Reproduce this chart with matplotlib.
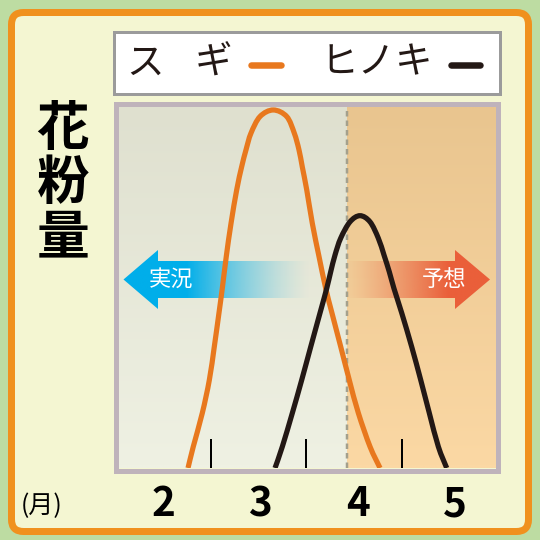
import numpy as np
import matplotlib
matplotlib.use("Agg")
import matplotlib.pyplot as plt
from matplotlib.path import Path
from matplotlib.patches import PathPatch, Rectangle, FancyBboxPatch, Polygon
from matplotlib.lines import Line2D

plt.rcParams['font.family'] = ['Noto Sans CJK JP', 'DejaVu Sans']

# ---------------- data ----------------
sugi_month = [2.257, 2.311, 2.404, 2.476, 2.527, 2.575, 2.609, 2.650, 2.699, 2.757,
              2.808, 2.853, 2.904, 2.997, 3.133, 3.271, 3.349, 3.397, 3.431, 3.477,
              3.534, 3.603, 3.672, 3.736, 3.826, 3.914, 4.007, 4.127, 4.230]
sugi_amount = [0, 5.9, 15.2, 24.3, 33.5, 42.8, 49.6, 58.4, 67.6, 76.8,
               83.2, 87.9, 92.5, 97.1, 98.9, 97.1, 92.5, 87.9, 83.2, 76.8,
               67.6, 58.4, 49.6, 42.8, 33.5, 24.3, 15.2, 5.9, 0]
hinoki_month = [3.151, 3.226, 3.329, 3.425, 3.518, 3.613, 3.682, 3.723, 3.767, 3.826,
                3.921, 4.024, 4.127, 4.212, 4.271, 4.325, 4.373, 4.453, 4.555, 4.648,
                4.736, 4.829, 4.915]
hinoki_amount = [0, 5.9, 15.2, 24.3, 33.5, 42.8, 49.6, 54.2, 58.8, 63.5,
                 68.0, 69.7, 68.0, 63.5, 58.8, 54.2, 49.6, 42.8, 33.5, 24.3,
                 15.2, 5.9, 0]
month_pos = [2, 3, 4, 5]
month_labels = ['2', '3', '4', '5']
tick_pos = [2.49, 3.47, 4.46]
today = 3.89
legend_sugi = ['ス', 'ギ']
legend_hinoki = 'ヒノキ'
ylabel_chars = ['花', '粉', '量']
past_label = '実況'
future_label = '予想'
unit_label = '(月)'

# ---------------- styles ----------------
ORANGE = '#e8781e'
BLACK = '#231815'
W, H = 540, 540
PX = 0.72  # px -> pt

fig = plt.figure(figsize=(5.4, 5.4), dpi=100)
fig.patch.set_facecolor('#bddca2')

# pixel-coordinate background axes
bg = fig.add_axes([0, 0, 1, 1], zorder=0)
bg.set_xlim(0, W); bg.set_ylim(H, 0); bg.axis('off')
bg.add_patch(FancyBboxPatch((11.5, 12.5), 517, 519,
                            boxstyle="round,pad=0,rounding_size=12",
                            facecolor='#f4f6d2', edgecolor='#f0911e', lw=7 * PX))
# legend box
bg.add_patch(Rectangle((113.5, 31.5), 386, 62.5, facecolor='white',
                       edgecolor='#9b9b9b', lw=3 * PX))
bg.text(145, 63, legend_sugi[0], ha='center', va='center', fontsize=27, color=BLACK)
bg.text(213, 63, legend_sugi[1], ha='center', va='center', fontsize=27, color=BLACK)
bg.add_line(Line2D([251, 281], [64.5, 64.5], color=ORANGE, lw=6.5 * PX,
                   solid_capstyle='round'))
bg.text(377, 63, legend_hinoki, ha='center', va='center', fontsize=27, color=BLACK)
bg.add_line(Line2D([451, 480], [64.5, 64.5], color=BLACK, lw=6.5 * PX,
                   solid_capstyle='round'))
# y label
for ch, yy in zip(ylabel_chars, [130, 184, 238]):
    bg.text(63, yy, ch, ha='center', va='center', fontsize=38,
            fontweight='bold', color='black')
bg.text(42, 506, unit_label, ha='center', va='center', fontsize=18, color='black')

# inner plot area (pixel coords)
L, R, T, B = 118, 495, 106, 468
pos = [L / W, 1 - B / H, (R - L) / W, (B - T) / H]

xmin = 2 + (L - 163) / 97.33
xmax = 2 + (R - 163) / 97.33

ax = fig.add_axes(pos, zorder=1)
ax.set_xlim(xmin, xmax); ax.set_ylim(0, 100)
ax.axis('off')

def vgrad(top, bottom, n=64):
    top = np.array(matplotlib.colors.to_rgb(top))
    bottom = np.array(matplotlib.colors.to_rgb(bottom))
    t = np.linspace(0, 1, n)[:, None]
    return (top * (1 - t) + bottom * t)[:, None, :]

ax.imshow(vgrad('#dfe0cf', '#eff1e3'), extent=(xmin, today, 0, 100),
          aspect='auto', interpolation='bilinear', origin='upper', zorder=0)
ax.imshow(vgrad('#e9c58f', '#fbd8a4'), extent=(today, xmax, 0, 100),
          aspect='auto', interpolation='bilinear', origin='upper', zorder=0)

def px2d(x, y):
    return (2 + (x - 163) / 97.33, (B - y) / (B - T) * 100)

def arrow(poly_px, x0, x1, color, a0, a1, gamma=1.0):
    verts = [px2d(x, y) for x, y in poly_px]
    patch = Polygon(verts, closed=True, facecolor='none', edgecolor='none')
    ax.add_patch(patch)
    n = 256
    t = np.linspace(0, 1, n)
    alpha = np.clip(a0 + (a1 - a0) * t, 0, 1) ** gamma
    rgb = np.array(matplotlib.colors.to_rgb(color))
    img = np.zeros((1, n, 4))
    img[0, :, :3] = rgb
    img[0, :, 3] = alpha
    xa, _ = px2d(x0, 0); xb, _ = px2d(x1, 0)
    _, yt = px2d(0, 248); _, yb = px2d(0, 311)
    im = ax.imshow(img, extent=(xa, xb, yb, yt), aspect='auto',
                   interpolation='bilinear', zorder=1)
    im.set_clip_path(patch)

blue_poly = [(123.5, 279.5), (158, 250), (158, 261), (312, 261), (312, 298),
             (158, 298), (158, 309)]
arrow(blue_poly, 118, 312, '#00aeea', 1.55, 0.0, 1.4)
red_poly = [(490, 279.5), (455, 250), (455, 261), (345, 261), (345, 298),
            (455, 298), (455, 309)]
arrow(red_poly, 345, 495, '#ea5f3a', 0.0, 1.45, 1.2)

bx, by = px2d(171, 279)
ax.text(bx, by, past_label, ha='center', va='center', fontsize=16, color='white', zorder=2)
rx, ry = px2d(444, 279)
ax.text(rx, ry, future_label, ha='center', va='center', fontsize=16, color='white', zorder=2)

# today dashed line
ax.axvline(today, color='#a4a08c', lw=2.5 * PX, ls=(0, (2.2, 1.6)), zorder=2)

# mid-month ticks
for tp in tick_pos:
    ax.plot([tp, tp], [0, (B - 440) / (B - T) * 100], color='black', lw=2 * PX, zorder=2)

# smooth curves through points (Catmull-Rom rendered as Bezier)
def smooth(xs, ys):
    P = np.column_stack([xs, ys]).astype(float)
    n = len(P)
    verts = [P[0]]; codes = [Path.MOVETO]
    for i in range(n - 1):
        p0 = P[i - 1] if i > 0 else P[i]
        p1 = P[i]; p2 = P[i + 1]
        p3 = P[i + 2] if i + 2 < n else P[i + 1]
        verts += [p1 + (p2 - p0) / 6, p2 - (p3 - p1) / 6, p2]
        codes += [Path.CURVE4] * 3
    return Path(verts, codes)

ax.add_patch(PathPatch(smooth(sugi_month, sugi_amount), facecolor='none',
                       edgecolor=ORANGE, lw=5.2 * PX, zorder=3, capstyle='butt'))
ax.add_patch(PathPatch(smooth(hinoki_month, hinoki_amount), facecolor='none',
                       edgecolor=BLACK, lw=5.2 * PX, zorder=3, capstyle='butt'))

# overlay for border and month labels
top = fig.add_axes([0, 0, 1, 1], zorder=2)
top.set_xlim(0, W); top.set_ylim(H, 0); top.axis('off')
top.patch.set_alpha(0)
top.add_patch(Rectangle((115.5, 103.5), 382, 367.5, facecolor='none',
                        edgecolor='#bfb3bb', lw=5 * PX))
for m, lab in zip(month_pos, month_labels):
    top.text(163 + (m - 2) * 97.33, 505, lab, ha='center', va='center',
             fontsize=29, fontweight='bold', color='black')

fig.savefig('out.png', dpi=100, facecolor=fig.get_facecolor())
